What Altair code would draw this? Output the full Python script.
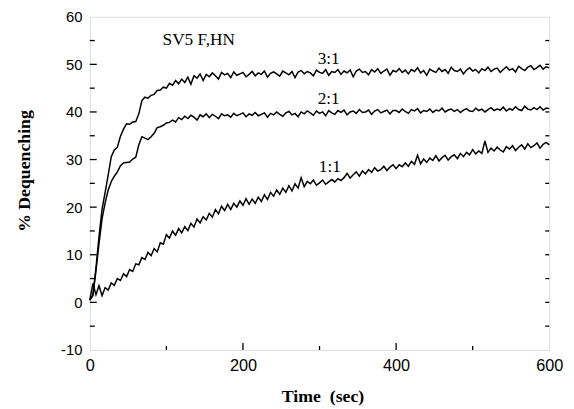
import altair as alt
import pandas as pd

# Sampling times (sec)
time_s = [
    0, 4, 8, 12, 16, 20, 24, 28, 32, 36, 40, 44, 48, 52, 56, 60, 64, 68, 72, 76,
    80, 84, 88, 92, 96, 100, 104, 108, 112, 116, 120, 124, 128, 132, 136, 140, 144, 148, 152, 156,
    160, 164, 168, 172, 176, 180, 184, 188, 192, 196, 200, 204, 208, 212, 216, 220, 224, 228, 232, 236,
    240, 244, 248, 252, 256, 260, 264, 268, 272, 276, 280, 284, 288, 292, 296, 300, 304, 308, 312, 316,
    320, 324, 328, 332, 336, 340, 344, 348, 352, 356, 360, 364, 368, 372, 376, 380, 384, 388, 392, 396,
    400, 404, 408, 412, 416, 420, 424, 428, 432, 436, 440, 444, 448, 452, 456, 460, 464, 468, 472, 476,
    480, 484, 488, 492, 496, 500, 504, 508, 512, 516, 520, 524, 528, 532, 536, 540, 544, 548, 552, 556,
    560, 564, 568, 572, 576, 580, 584, 588, 592, 596, 600,
]

# % Dequenching, ratio 3:1
deq_3_1 = [
    0.4, 1.6, 7.2, 13.8, 19.6, 23.1, 26.8, 30.6, 32.0, 32.6,
    34.9, 36.4, 37.5, 37.4, 37.9, 38.0, 39.6, 42.4, 43.1, 42.9,
    43.5, 43.7, 44.5, 44.6, 45.2, 45.0, 46.0, 45.6, 46.6, 45.9,
    46.9, 46.2, 47.3, 45.8, 47.6, 47.1, 48.0, 46.6, 47.9, 47.4,
    48.2, 47.6, 46.9, 48.3, 47.8, 48.1, 47.2, 48.4, 47.7, 48.0,
    48.3, 47.4, 47.9, 48.5, 47.6, 48.2, 47.9, 48.6, 47.3, 48.1,
    48.4, 48.0, 47.5, 48.6, 48.2, 47.8, 48.5, 47.2, 48.4, 48.7,
    48.0, 48.5, 48.2, 47.6, 48.8, 48.3, 48.1, 48.9, 47.7, 48.5,
    48.3, 48.9, 47.9, 48.6, 48.2, 48.8, 47.4, 48.6, 49.0, 48.3,
    48.5, 47.8, 48.9, 48.4, 49.1, 48.1, 48.6, 49.0, 47.7, 48.7,
    48.4, 49.1, 48.3, 48.8, 48.0, 48.9, 48.5, 49.3, 48.2, 48.7,
    47.7, 49.0, 48.6, 48.3, 49.2, 48.5, 48.9, 48.1, 49.4, 48.7,
    48.5, 49.0, 48.0, 48.8, 49.3, 48.6, 48.9, 48.2, 49.1, 48.7,
    49.4, 48.5, 49.0, 49.2, 48.3, 48.9, 49.5, 48.8, 49.1, 48.4,
    49.6, 49.1, 48.7, 49.4, 49.7, 48.9, 49.3, 49.8, 49.0, 49.5,
    49.3,
]

# % Dequenching, ratio 2:1
deq_2_1 = [
    0.6, 1.4, 6.6, 12.4, 17.6, 20.9, 23.6, 25.4, 26.5, 27.4,
    28.7, 29.3, 29.4, 29.5, 30.1, 30.5, 33.1, 34.8, 34.5, 34.2,
    34.8, 35.5, 36.7, 36.9, 37.2, 37.7, 37.8, 38.3, 37.9, 38.8,
    38.4, 39.1, 38.6, 39.3, 38.9, 38.3, 39.4, 39.0, 39.6, 38.8,
    39.5, 39.1, 38.6, 39.6, 39.2, 39.4, 38.9, 39.7, 39.2, 39.5,
    39.8, 39.0, 39.6, 39.3, 39.9, 39.2, 39.5, 39.8, 38.9, 39.7,
    39.4, 40.0, 39.5, 39.1, 39.8, 40.1, 39.4, 39.7, 39.0, 40.0,
    39.6, 40.2, 39.8, 39.3, 40.2, 39.7, 40.0, 39.2, 40.3, 39.8,
    39.5, 40.3, 39.9, 40.4, 39.4, 40.0, 40.2, 39.7, 40.5, 39.9,
    40.0, 40.4, 39.5, 40.2, 40.5, 39.8, 40.1, 40.4, 39.6, 40.3,
    40.3, 39.9, 40.6, 40.1, 39.7, 40.5, 40.2, 40.7, 39.8, 40.3,
    40.1, 40.6, 39.9, 40.4, 40.2, 40.8, 40.0, 40.4, 40.6, 40.1,
    40.5, 39.9, 40.4, 40.7, 40.2, 40.1, 40.8, 40.3, 40.6, 40.0,
    40.5, 40.9, 40.3, 40.6, 40.4, 41.0, 40.2, 40.7, 40.4, 41.1,
    40.5, 40.3, 41.2, 40.6, 40.4, 40.9, 40.5, 41.1, 40.4, 40.8,
    40.7,
]

# % Dequenching, ratio 1:1
deq_1_1 = [
    0.5, 4.0, 1.6, 3.5, 1.4, 3.1, 2.6, 4.1, 3.6, 5.0,
    4.6, 6.0, 5.4, 6.9, 6.5, 8.1, 7.9, 9.4, 9.0, 10.5,
    9.8, 11.3, 10.6, 12.5, 12.2, 14.2, 13.5, 15.0, 14.1, 15.5,
    14.6, 15.9, 15.1, 16.6, 15.8, 17.5, 16.7, 18.0, 17.3, 18.7,
    17.9, 19.5, 18.6, 20.2, 19.3, 20.6, 19.5, 20.8, 20.0, 21.3,
    20.4, 21.8, 20.6, 21.7, 20.8, 22.1, 21.2, 22.6, 21.6, 23.1,
    22.3, 23.6, 22.7, 24.0, 23.1, 24.5, 23.4, 24.9, 24.0, 26.2,
    24.3, 25.4, 24.9, 25.7, 24.6, 25.1, 25.7, 24.8, 25.3, 25.8,
    25.3, 26.0, 25.6, 26.2, 27.1, 26.1, 26.8, 27.4, 26.5, 27.6,
    27.0, 27.9, 27.3, 28.3, 27.6, 27.9, 28.6, 27.7, 28.4, 28.9,
    28.1, 28.9, 28.5, 29.3, 28.6, 29.6, 29.0, 30.9, 29.1, 30.1,
    29.4, 30.3, 29.8, 30.8, 29.7, 30.4, 30.9, 29.9, 30.6, 31.0,
    30.2, 31.3, 30.6, 31.5, 31.0, 32.1, 31.2, 31.8, 31.3, 33.9,
    31.5, 32.4, 31.8, 32.6, 32.0, 31.6, 32.7, 32.2, 32.9, 31.9,
    32.6, 33.1, 32.2, 33.3, 32.5, 32.9, 33.5, 32.4, 33.2, 33.6,
    33.1,
]

series_names = ["3:1", "2:1", "1:1"]

label_text = ["SV5 F,HN", "3:1", "2:1", "1:1"]
label_x = [95, 312, 312, 313.5]
label_y = [54, 50.1, 41.6, 27.4]
label_align = ["left", "center", "center", "center"]

y_tick_vals = [-5, 0, 5, 10, 15, 20, 25, 30, 35, 40, 45, 50, 55]
y_major_vals = [0, 10, 20, 30, 40, 50]
y_minor_vals = [-5, 5, 15, 25, 35, 45, 55]
x_major_vals = [200, 400]
x_minor_vals = [100, 300, 500]

W, H = 466, 338

rows = []
for name, vals in zip(series_names, [deq_3_1, deq_2_1, deq_1_1]):
    for t, v in zip(time_s, vals):
        rows.append({"t": t, "v": v, "series": name})
df = pd.DataFrame(rows)

xscale = alt.Scale(domain=[0, 600], nice=False)
yscale = alt.Scale(domain=[-10, 60], nice=False)

x_axis = alt.Axis(
    values=[0, 200, 400, 600], ticks=False, domain=False, grid=False,
    labelFont="Liberation Sans", labelFontSize=16.5, labelColor="black",
    labelPadding=21, labelBaseline="alphabetic", labelExpr="'' + datum.value",
    labelFlush=False, labelOverlap=False,
    title="Time\u00a0\u00a0(sec)", titleFont="Liberation Serif",
    titleFontSize=18, titleFontWeight="bold", titleColor="black",
    titleX=236, titleY=52, titleBaseline="alphabetic",
)
y_axis = alt.Axis(
    values=[-10, 0, 10, 20, 30, 40, 50, 60], ticks=False, domain=False, grid=False,
    labelFont="Liberation Sans", labelFontSize=15, labelColor="black",
    labelPadding=8, labelExpr="'' + datum.value",
    labelFlush=False, labelOverlap=False,
    title="% Dequenching", titleFont="Liberation Serif",
    titleFontSize=18, titleFontWeight="bold", titleColor="black",
    titleX=-61, titleY=156, titleBaseline="alphabetic",
)

lines = alt.Chart(df).mark_line(color="black", strokeWidth=1.5).encode(
    x=alt.X("t:Q", scale=xscale, axis=x_axis),
    y=alt.Y("v:Q", scale=yscale, axis=y_axis),
    detail="series:N",
    order="t:Q",
)

labels_df = pd.DataFrame({"x": label_x, "y": label_y, "text": label_text, "align": label_align})
label_left = alt.Chart(labels_df[labels_df["align"] == "left"]).mark_text(
    font="Liberation Serif", fontSize=17.5, color="black", align="left", baseline="alphabetic"
).encode(x=alt.X("x:Q", scale=xscale), y=alt.Y("y:Q", scale=yscale), text="text:N")
label_center = alt.Chart(labels_df[labels_df["align"] == "center"]).mark_text(
    font="Liberation Serif", fontSize=17.5, color="black", align="center", baseline="alphabetic"
).encode(x=alt.X("x:Q", scale=xscale), y=alt.Y("y:Q", scale=yscale), text="text:N")

ymaj = pd.DataFrame({"y": y_major_vals})
ymin = pd.DataFrame({"y": y_minor_vals})
yall = pd.DataFrame({"y": y_tick_vals})
xmaj = pd.DataFrame({"x": x_major_vals})
xmin = pd.DataFrame({"x": x_minor_vals})

tick_style = dict(color="black", strokeWidth=1.3)
left_major = alt.Chart(ymaj).mark_rule(**tick_style).encode(
    y=alt.Y("y:Q", scale=yscale), x=alt.value(0), x2=alt.value(7))
left_minor = alt.Chart(ymin).mark_rule(**tick_style).encode(
    y=alt.Y("y:Q", scale=yscale), x=alt.value(0), x2=alt.value(5))
right_ticks = alt.Chart(yall).mark_rule(**tick_style).encode(
    y=alt.Y("y:Q", scale=yscale), x=alt.value(W - 4), x2=alt.value(W))
bottom_major = alt.Chart(xmaj).mark_rule(**tick_style).encode(
    x=alt.X("x:Q", scale=xscale), y=alt.value(H), y2=alt.value(H - 7))
bottom_minor = alt.Chart(xmin).mark_rule(**tick_style).encode(
    x=alt.X("x:Q", scale=xscale), y=alt.value(H), y2=alt.value(H - 4))

chart = alt.layer(
    lines, label_left, label_center,
    left_major, left_minor, right_ticks, bottom_major, bottom_minor,
).properties(
    width=W, height=H,
    autosize=alt.AutoSizeParams(type="none"),
    padding={"left": 83, "top": 6, "right": 17, "bottom": 56},
).configure_view(
    stroke="black", strokeWidth=1.6
).configure(background="white")

chart.save("out.html", embed_options={"renderer": "svg", "actions": False})
